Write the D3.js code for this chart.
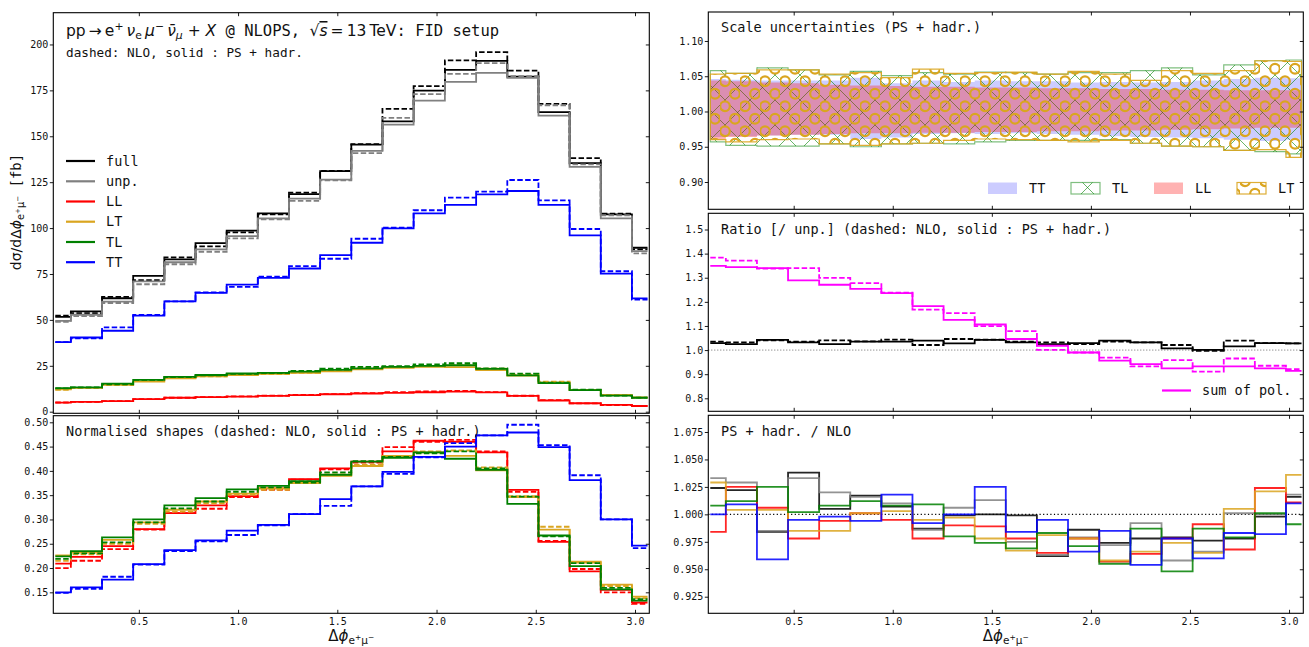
<!DOCTYPE html>
<html>
<head>
<meta charset="utf-8">
<script src="https://cdn.jsdelivr.net/npm/d3@7"></script>
<style>
  body { margin: 0; background: #fff; }
  svg { display: block; }
</style>
</head>
<body>
<svg id="chart" width="1309" height="647"></svg>
<script>
// bin centres of delta phi (20 bins of pi/20)
const dphi = [0.079, 0.236, 0.393, 0.550, 0.707, 0.864, 1.021, 1.178, 1.335, 1.492,
              1.649, 1.806, 1.963, 2.121, 2.278, 2.435, 2.592, 2.749, 2.906, 3.063];
const xTicks = [0.5, 1.0, 1.5, 2.0, 2.5, 3.0];

// differential cross sections [fb], PS + hadr. (solid) and NLO (dashed)
const fullPS  = [51.6, 54.6, 61.8, 74.0, 83.0, 91.8, 98.6, 108.0, 118.5, 131.0, 145.5, 158.1, 174.9, 186.2, 191.1, 182.5, 163.1, 135.4, 107.5, 89.3];
const fullNLO = [52.3, 53.7, 62.5, 71.6, 84.0, 90.0, 97.7, 107.5, 119.3, 131.2, 145.7, 164.9, 177.3, 191.3, 195.8, 185.8, 167.6, 138.1, 107.8, 88.4];
const unpPS   = [49.5, 52.8, 60.0, 71.0, 81.4, 88.4, 95.6, 105.3, 116.0, 126.4, 142.0, 156.3, 169.4, 179.6, 184.5, 181.8, 161.2, 133.3, 105.3, 87.5];
const unpNLO  = [49.0, 52.0, 59.2, 69.4, 80.3, 87.1, 94.4, 104.8, 114.8, 126.0, 140.8, 160.0, 173.0, 184.0, 189.8, 182.7, 166.9, 134.7, 107.0, 86.2];
const llPS    = [4.9, 5.4, 5.8, 6.8, 7.6, 7.9, 8.2, 8.6, 9.0, 9.5, 9.9, 10.3, 10.6, 10.9, 10.5, 8.6, 6.1, 4.6, 3.7, 3.1];
const llNLO   = [5.0, 5.3, 5.8, 6.9, 7.6, 7.9, 8.3, 8.8, 9.1, 9.6, 10.1, 10.7, 11.1, 11.3, 10.7, 8.7, 6.3, 4.5, 3.6, 3.1];
const ltPS    = [12.2, 13.0, 14.6, 16.4, 18.2, 19.2, 20.0, 20.6, 21.2, 22.0, 23.0, 23.9, 24.4, 24.3, 22.6, 19.6, 15.8, 11.9, 9.2, 7.8];
const ltNLO   = [11.9, 12.9, 14.5, 16.6, 18.5, 19.2, 19.9, 20.5, 21.2, 22.4, 23.8, 24.4, 25.0, 25.4, 23.5, 20.2, 16.3, 11.8, 9.0, 7.6];
const tlPS    = [12.8, 13.3, 15.3, 17.3, 19.0, 20.0, 20.8, 21.2, 21.8, 22.8, 23.6, 24.4, 25.0, 25.3, 23.3, 19.8, 15.6, 11.8, 8.8, 7.6];
const tlNLO   = [12.7, 13.2, 14.9, 17.3, 18.9, 19.8, 20.6, 21.0, 22.2, 23.4, 24.4, 24.8, 25.7, 26.4, 23.6, 20.7, 15.8, 12.0, 8.8, 7.7];
const ttPS    = [37.9, 40.4, 44.1, 52.3, 60.1, 64.7, 69.2, 72.9, 78.0, 85.3, 92.0, 99.8, 108.0, 112.6, 118.4, 120.2, 112.6, 96.0, 75.2, 61.7];
const ttNLO   = [37.9, 40.0, 45.9, 52.7, 60.1, 65.0, 68.0, 73.5, 79.3, 83.3, 94.2, 100.3, 109.7, 116.6, 119.9, 126.2, 115.1, 99.5, 76.5, 61.0];

// normalised shapes
const shLLPS  = [0.209, 0.223, 0.245, 0.280, 0.313, 0.329, 0.348, 0.364, 0.383, 0.405, 0.419, 0.440, 0.462, 0.460, 0.438, 0.361, 0.254, 0.193, 0.155, 0.129];
const shLLNLO = [0.200, 0.215, 0.239, 0.279, 0.313, 0.322, 0.346, 0.361, 0.382, 0.403, 0.417, 0.449, 0.460, 0.464, 0.440, 0.357, 0.256, 0.198, 0.150, 0.126];
const shLTPS  = [0.226, 0.232, 0.258, 0.294, 0.320, 0.337, 0.353, 0.364, 0.375, 0.390, 0.410, 0.431, 0.438, 0.431, 0.401, 0.346, 0.279, 0.213, 0.166, 0.141];
const shLTNLO = [0.215, 0.228, 0.250, 0.291, 0.316, 0.333, 0.351, 0.361, 0.376, 0.393, 0.413, 0.429, 0.440, 0.442, 0.407, 0.348, 0.285, 0.211, 0.163, 0.138];
const shTLPS  = [0.224, 0.235, 0.263, 0.300, 0.329, 0.344, 0.362, 0.369, 0.379, 0.392, 0.419, 0.427, 0.438, 0.425, 0.402, 0.332, 0.267, 0.204, 0.156, 0.133];
const shTLNLO = [0.219, 0.230, 0.253, 0.294, 0.323, 0.337, 0.357, 0.366, 0.376, 0.397, 0.420, 0.429, 0.436, 0.440, 0.405, 0.347, 0.265, 0.210, 0.159, 0.136];
const shTTPS  = [0.150, 0.160, 0.176, 0.208, 0.237, 0.257, 0.277, 0.289, 0.311, 0.342, 0.368, 0.398, 0.429, 0.450, 0.473, 0.479, 0.449, 0.381, 0.300, 0.246];
const shTTNLO = [0.149, 0.157, 0.182, 0.207, 0.235, 0.255, 0.268, 0.288, 0.311, 0.328, 0.368, 0.394, 0.428, 0.457, 0.473, 0.495, 0.453, 0.391, 0.300, 0.241];

// scale-uncertainty bands (PS + hadr.), relative to central
const bandTThi = [1.046, 1.045, 1.044, 1.044, 1.044, 1.048, 1.040, 1.044, 1.042, 1.044, 1.043, 1.043, 1.041, 1.042, 1.041, 1.042, 1.044, 1.046, 1.048, 1.047];
const bandTTlo = [0.964, 0.965, 0.966, 0.967, 0.967, 0.961, 0.963, 0.968, 0.969, 0.968, 0.969, 0.968, 0.967, 0.965, 0.964, 0.963, 0.962, 0.960, 0.958, 0.960];
const bandTLhi = [1.058, 1.054, 1.062, 1.059, 1.052, 1.057, 1.051, 1.055, 1.053, 1.056, 1.055, 1.053, 1.055, 1.055, 1.058, 1.062, 1.052, 1.066, 1.072, 1.073];
const bandTLlo = [0.957, 0.952, 0.951, 0.951, 0.954, 0.950, 0.954, 0.955, 0.954, 0.957, 0.959, 0.959, 0.959, 0.960, 0.955, 0.951, 0.950, 0.945, 0.943, 0.940];
const bandLLhi = [1.044, 1.043, 1.041, 1.040, 1.038, 1.037, 1.036, 1.035, 1.035, 1.034, 1.034, 1.033, 1.033, 1.032, 1.032, 1.031, 1.031, 1.030, 1.030, 1.030];
const bandLLlo = [0.961, 0.964, 0.966, 0.967, 0.968, 0.969, 0.969, 0.970, 0.970, 0.971, 0.971, 0.972, 0.972, 0.973, 0.973, 0.974, 0.975, 0.976, 0.977, 0.977];
const bandLThi = [1.053, 1.054, 1.059, 1.059, 1.053, 1.055, 1.048, 1.060, 1.054, 1.055, 1.056, 1.053, 1.057, 1.053, 1.044, 1.058, 1.054, 1.058, 1.072, 1.071];
const bandLTlo = [0.960, 0.957, 0.960, 0.961, 0.954, 0.952, 0.954, 0.955, 0.959, 0.961, 0.960, 0.959, 0.957, 0.959, 0.955, 0.951, 0.950, 0.945, 0.946, 0.935];

// ratios to unpolarised
const rFullPS  = [1.029, 1.025, 1.042, 1.032, 1.025, 1.035, 1.035, 1.039, 1.028, 1.042, 1.032, 1.025, 1.029, 1.039, 1.032, 1.007, 1.001, 1.015, 1.029, 1.028];
const rFullNLO = [1.035, 1.032, 1.040, 1.035, 1.040, 1.036, 1.043, 1.021, 1.046, 1.043, 1.035, 1.032, 1.025, 1.035, 1.032, 1.021, 0.997, 1.039, 1.029, 1.028];
const rSumPS   = [1.349, 1.344, 1.340, 1.289, 1.271, 1.254, 1.236, 1.182, 1.125, 1.106, 1.046, 1.018, 0.990, 0.956, 0.942, 0.924, 0.932, 0.932, 0.924, 0.914];
const rSumNLO  = [1.383, 1.371, 1.338, 1.340, 1.299, 1.278, 1.238, 1.168, 1.153, 1.099, 1.079, 1.001, 0.990, 0.969, 0.932, 0.958, 0.911, 0.965, 0.935, 0.921];

// PS + hadr. / NLO
const kFull = [1.024, 1.022, 0.984, 1.038, 1.005, 1.017, 1.007, 0.987, 0.999, 1.000, 0.999, 0.962, 0.986, 0.974, 0.978, 0.979, 0.976, 0.978, 0.998, 1.016];
const kUnp  = [1.033, 1.029, 0.985, 1.033, 1.020, 1.016, 1.010, 0.986, 1.006, 1.013, 0.975, 0.963, 0.979, 0.972, 0.992, 0.958, 0.966, 1.001, 1.000, 1.018];
const kLL   = [0.984, 1.025, 1.006, 0.978, 0.994, 1.001, 0.995, 0.978, 0.990, 0.989, 0.978, 0.965, 0.978, 0.957, 0.964, 0.978, 0.991, 0.968, 1.024, 1.011];
const kLT   = [1.029, 1.004, 1.004, 0.985, 0.985, 1.001, 1.003, 0.995, 0.997, 0.978, 0.967, 0.981, 0.978, 0.958, 0.966, 0.974, 0.965, 1.005, 1.021, 1.036];
const kTL   = [1.008, 1.012, 1.025, 1.002, 1.008, 1.012, 1.008, 1.009, 0.980, 0.974, 0.969, 0.983, 0.971, 0.955, 0.987, 0.948, 0.987, 0.979, 1.001, 0.991];
const kTT   = [1.000, 1.009, 0.959, 0.995, 0.998, 0.994, 1.018, 0.992, 1.000, 1.025, 0.984, 0.995, 0.966, 0.985, 0.954, 0.978, 0.960, 0.983, 0.982, 1.010];

const MONO = '"DejaVu Sans Mono", monospace';
const SANS = '"DejaVu Sans", sans-serif';
const col = { full: '#000000', unp: '#808080', LL: '#ff0000', LT: '#daa520', TL: '#008000', TT: '#0000ff', sum: '#ff00ff' };
const dash = '5.5,2.4';

const svg = d3.select('#chart');
const defs = svg.append('defs');

// hatch patterns
let pX = defs.append('pattern').attr('id', 'hatchX')
    .attr('patternUnits', 'userSpaceOnUse').attr('width', 25).attr('height', 25);
pX.append('path').attr('d', 'M0,0L25,25M25,0L0,25')
    .attr('stroke', col.TL).attr('stroke-width', 0.9).attr('stroke-opacity', 0.65).attr('fill', 'none');
let pO = defs.append('pattern').attr('id', 'hatchO')
    .attr('patternUnits', 'userSpaceOnUse').attr('width', 20).attr('height', 25);
[[5, 6.25], [15, 18.75]].forEach(c => {
    pO.append('circle').attr('cx', c[0]).attr('cy', c[1]).attr('r', 4.8)
        .attr('fill', 'none').attr('stroke', col.LT).attr('stroke-width', 2.2);
});

const xDom = [0.069, 3.072];
const colL = [53.3, 649.3], colR = [708.3, 1303.3];
let clipN = 0;

function makePanel(xr, yr, ydom, yticks, yfmt, xlabels) {
    let xs = d3.scaleLinear().domain(xDom).range(xr);
    let ys = d3.scaleLinear().domain(ydom).range([yr[1], yr[0]]);
    let g = svg.append('g');
    let id = 'clip' + (clipN++);
    defs.append('clipPath').attr('id', id).append('rect')
        .attr('x', xr[0]).attr('y', yr[0]).attr('width', xr[1] - xr[0]).attr('height', yr[1] - yr[0]);
    let plot = g.append('g').attr('clip-path', 'url(#' + id + ')');
    let axes = g.append('g');

    axes.append('g').attr('transform', 'translate(' + xr[0] + ',0)')
        .call(d3.axisLeft(ys).tickValues(yticks).tickFormat(yfmt).tickSize(3.5).tickPadding(1.5));
    axes.append('g').attr('transform', 'translate(' + xr[1] + ',0)')
        .call(d3.axisLeft(ys).tickValues(yticks).tickFormat('').tickSize(3.5));
    axes.append('g').attr('transform', 'translate(0,' + yr[0] + ')')
        .call(d3.axisBottom(xs).tickValues(xTicks).tickFormat('').tickSize(3.5));
    axes.append('g').attr('transform', 'translate(0,' + yr[1] + ')')
        .call(d3.axisTop(xs).tickValues(xTicks).tickFormat('').tickSize(3.5));
    if (xlabels) {
        axes.append('g').attr('transform', 'translate(0,' + yr[1] + ')')
            .call(d3.axisBottom(xs).tickValues(xTicks).tickFormat(d3.format('.1f')).tickSize(0).tickPadding(5));
    }
    axes.selectAll('.domain').remove();
    axes.selectAll('g').attr('font-family', MONO).attr('font-size', 10);
    axes.selectAll('.tick line').attr('stroke', '#000').attr('stroke-width', 0.9);
    axes.selectAll('.tick text').attr('fill', '#111');

    g.append('rect')
        .attr('x', xr[0]).attr('y', yr[0]).attr('width', xr[1] - xr[0]).attr('height', yr[1] - yr[0])
        .attr('fill', 'none').attr('stroke', '#000').attr('stroke-width', 1.1);
    return { xs: xs, ys: ys, plot: plot, g: g };
}

function stepPath(p, vals, color, dashed, width, opacity) {
    let line = d3.line()
        .x((d, i) => p.xs(dphi[i]))
        .y(d => p.ys(d))
        .curve(d3.curveStep);
    p.plot.append('path')
        .datum(vals)
        .attr('d', line)
        .attr('fill', 'none')
        .attr('stroke', color)
        .attr('stroke-width', width || 1.8)
        .attr('stroke-opacity', opacity || 1)
        .attr('stroke-dasharray', dashed ? dash : null);
}

function band(p, lo, hi, fill, opacity, stroke, strokeOp) {
    let area = d3.area()
        .x((d, i) => p.xs(dphi[i]))
        .y0((d, i) => p.ys(lo[i]))
        .y1((d, i) => p.ys(hi[i]))
        .curve(d3.curveStep);
    p.plot.append('path')
        .datum(lo)
        .attr('d', area)
        .attr('fill', fill)
        .attr('fill-opacity', opacity)
        .attr('stroke', stroke || 'none')
        .attr('stroke-opacity', strokeOp || 1)
        .attr('stroke-width', 1.2);
}

// sub: subscript, sup: superscript, ss: superscript of a subscript
function mathText(sel, parts, size) {
    let off = 0;
    const lv = { sub: 0.22, sup: -0.38, ss: -0.08 };
    const sz = { sub: 0.7, sup: 0.7, ss: 0.5 };
    parts.forEach(pt => {
        let lvl = pt.s ? lv[pt.s] * size : 0;
        sel.append('tspan')
            .attr('dy', lvl - off)
            .style('font-size', (pt.s ? size * sz[pt.s] : size) + 'px')
            .style('font-family', pt.m ? MONO : SANS)
            .style('font-style', pt.i ? 'italic' : 'normal')
            .style('text-decoration', pt.o ? 'overline' : null)
            .text(pt.t);
        off = lvl;
    });
}

function label(x, y, txt, size, anchor) {
    return svg.append('text').attr('x', x).attr('y', y)
        .attr('text-anchor', anchor || 'start')
        .attr('font-family', MONO).attr('font-size', size || 13.5)
        .attr('fill', '#111').style('white-space', 'pre').text(txt);
}

// ---------- top left: cross sections ----------
let p1 = makePanel(colL, [12.7, 413.3], [-0.87, 217.3], d3.range(0, 201, 25), d3.format('d'), false);
[[fullPS, fullNLO, col.full], [unpPS, unpNLO, col.unp], [llPS, llNLO, col.LL],
 [ltPS, ltNLO, col.LT], [tlPS, tlNLO, col.TL], [ttPS, ttNLO, col.TT]].forEach(s => {
    stepPath(p1, s[0], s[2], false);
    stepPath(p1, s[1], s[2], true);
});

let title = svg.append('text').attr('x', 66).attr('y', 36).attr('fill', '#111').style('white-space', 'pre');
mathText(title, [
    { t: 'pp\u2009\u2192\u2009e' }, { t: '+', s: 'sup' }, { t: '\u2009' }, { t: '\u03bd', i: 1 }, { t: 'e', s: 'sub' },
    { t: '\u2009' }, { t: '\u03bc', i: 1 }, { t: '\u2212', s: 'sup' }, { t: '\u2009' }, { t: '\u03bd\u0304', i: 1 }, { t: '\u03bc', s: 'sub', i: 1 },
    { t: ' + ' }, { t: 'X', i: 1 }, { t: ' @ NLOPS, ', m: 1 }, { t: '\u221a' }, { t: 's', i: 1, o: 1 },
    { t: '\u2009=\u200913\u2009TeV' }, { t: ': FID setup', m: 1 }
], 15.5);
label(66, 57, 'dashed: NLO, solid : PS + hadr.', 12.7);

// legend
const legItems = [['full', col.full], ['unp.', col.unp], ['LL', col.LL], ['LT', col.LT], ['TL', col.TL], ['TT', col.TT]];
const legY = [161, 181.3, 201.5, 221.7, 242, 262.2];
legItems.forEach((it, i) => {
    svg.append('line').attr('x1', 66).attr('x2', 95).attr('y1', legY[i]).attr('y2', legY[i])
        .attr('stroke', it[1]).attr('stroke-width', 2.2);
    label(106, legY[i] + 4.6, it[0], 13.5);
});

let ylab = svg.append('text').attr('transform', 'translate(21,212) rotate(-90)')
    .attr('text-anchor', 'middle').attr('fill', '#111').style('white-space', 'pre');
mathText(ylab, [
    { t: 'd\u03c3/d\u0394' }, { t: '\u03d5', i: 1 }, { t: 'e', s: 'sub' }, { t: '+', s: 'ss' },
    { t: '\u03bc', s: 'sub' }, { t: '\u2212', s: 'ss' }, { t: ' [fb]', m: 1 }
], 14);

// ---------- bottom left: normalised shapes ----------
let p2 = makePanel(colL, [415.7, 613.3], [0.1068, 0.5136], [0.15, 0.20, 0.25, 0.30, 0.35, 0.40, 0.45, 0.50], d3.format('.2f'), true);
[[shLLPS, shLLNLO, col.LL], [shLTPS, shLTNLO, col.LT], [shTLPS, shTLNLO, col.TL], [shTTPS, shTTNLO, col.TT]].forEach(s => {
    stepPath(p2, s[0], s[2], false);
    stepPath(p2, s[1], s[2], true);
});
label(66, 435.5, 'Normalised shapes (dashed: NLO, solid : PS + hadr.)', 13.5);

// ---------- top right: scale uncertainties ----------
let p3 = makePanel(colR, [12, 209.3], [0.8613, 1.1411], [0.90, 0.95, 1.00, 1.05, 1.10], d3.format('.2f'), false);
band(p3, bandTTlo, bandTThi, col.TT, 0.2);
band(p3, bandTLlo, bandTLhi, 'url(#hatchX)', 1, col.TL, 0.5);
band(p3, bandLLlo, bandLLhi, col.LL, 0.3);
band(p3, bandLTlo, bandLThi, 'url(#hatchO)', 1, col.LT, 0.9);
label(721, 32, 'Scale uncertainties (PS + hadr.)', 13.5);

const bandLeg = [
    { n: 'TT', x: 988, fill: col.TT, op: 0.2 },
    { n: 'TL', x: 1071, fill: 'url(#hatchX)', op: 1, stroke: col.TL, sop: 0.5 },
    { n: 'LL', x: 1154, fill: col.LL, op: 0.3 },
    { n: 'LT', x: 1237, fill: 'url(#hatchO)', op: 1, stroke: col.LT, sop: 0.9 }
];
bandLeg.forEach(b => {
    svg.append('rect').attr('x', b.x).attr('y', 182.5).attr('width', 29).attr('height', 11.5)
        .attr('fill', b.fill).attr('fill-opacity', b.op)
        .attr('stroke', b.stroke || 'none').attr('stroke-opacity', b.sop || 1).attr('stroke-width', 1.2);
    label(b.x + 41, 193, b.n, 13.5);
});

// ---------- middle right: ratio to unpolarised ----------
let p4 = makePanel(colR, [213.3, 411.3], [0.7461, 1.5672], [0.8, 0.9, 1.0, 1.1, 1.2, 1.3, 1.4, 1.5], d3.format('.1f'), false);
p4.plot.append('line').attr('x1', colR[0]).attr('x2', colR[1]).attr('y1', p4.ys(1)).attr('y2', p4.ys(1))
    .attr('stroke', '#666').attr('stroke-width', 1).attr('stroke-dasharray', '1,2');
stepPath(p4, rFullPS, col.full, false);
stepPath(p4, rFullNLO, col.full, true);
stepPath(p4, rSumPS, col.sum, false);
stepPath(p4, rSumNLO, col.sum, true);
label(721, 234, 'Ratio [/ unp.] (dashed: NLO, solid : PS + hadr.)', 13.5);
svg.append('line').attr('x1', 1162).attr('x2', 1191).attr('y1', 390.5).attr('y2', 390.5)
    .attr('stroke', col.sum).attr('stroke-width', 2.2);
label(1202, 395, 'sum of pol.', 13.5);

// ---------- bottom right: PS + hadr. / NLO ----------
let p5 = makePanel(colR, [415.3, 613.3], [0.9099, 1.0902], [0.925, 0.95, 0.975, 1.0, 1.025, 1.05, 1.075], d3.format('.3f'), true);
p5.plot.append('line').attr('x1', colR[0]).attr('x2', colR[1]).attr('y1', p5.ys(1)).attr('y2', p5.ys(1))
    .attr('stroke', '#000').attr('stroke-width', 1.2).attr('stroke-dasharray', '1.2,2.4');
[[kFull, col.full], [kUnp, col.unp], [kLL, col.LL], [kLT, col.LT], [kTL, col.TL], [kTT, col.TT]].forEach(s => {
    stepPath(p5, s[0], s[1], false, 1.8, 0.85);
});
label(721, 436, 'PS + hadr. / NLO', 13.5);

// x-axis labels
[(colL[0] + colL[1]) / 2, (colR[0] + colR[1]) / 2].forEach(cx => {
    let t = svg.append('text').attr('x', cx).attr('y', 641).attr('text-anchor', 'middle')
        .attr('fill', '#111').style('white-space', 'pre');
    mathText(t, [{ t: '\u0394' }, { t: '\u03d5', i: 1 }, { t: 'e', s: 'sub' }, { t: '+', s: 'ss' },
                 { t: '\u03bc', s: 'sub' }, { t: '\u2212', s: 'ss' }], 15);
});
</script>
</body>
</html>
